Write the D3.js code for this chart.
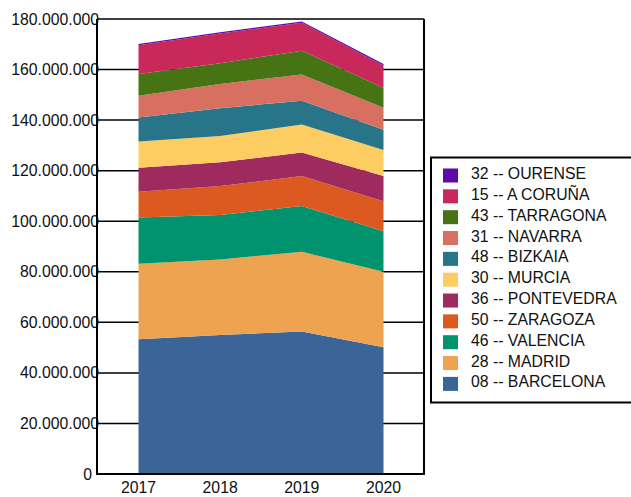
<!DOCTYPE html>
<meta charset="utf-8">
<style>
body { margin: 0; background: #fff; }
text { font-family: "Liberation Sans", Arial, sans-serif; font-size: 15.8px; fill: #111; }
</style>
<svg width="631" height="497"></svg>
<script src="https://cdn.jsdelivr.net/npm/d3@7"></script>
<script>

// years on the x axis
var years = [2017, 2018, 2019, 2020];

// provinces, bottom of the stack first
var provinces = ["08 -- BARCELONA", "28 -- MADRID", "46 -- VALENCIA", "50 -- ZARAGOZA",
  "36 -- PONTEVEDRA", "30 -- MURCIA", "48 -- BIZKAIA", "31 -- NAVARRA",
  "43 -- TARRAGONA", "15 -- A CORUÑA", "32 -- OURENSE"];

var colors = ["#3b6596", "#eda350", "#00936e", "#dc591f", "#9f2b5e", "#fdcd62",
  "#287489", "#d87062", "#467414", "#c8285a", "#5c0aa8"];

// values per province, one per year
var barcelona  = [53300000, 55000000, 56400000, 50100000];
var madrid     = [29900000, 29900000, 31500000, 29900000];
var valencia   = [18300000, 17600000, 18100000, 16000000];
var zaragoza   = [10200000, 11400000, 11900000, 11900000];
var pontevedra = [9500000, 9400000, 9300000, 10000000];
var murcia     = [10300000, 10400000, 11100000, 10300000];
var bizkaia    = [9500000, 11000000, 9400000, 8000000];
var navarra    = [8600000, 9600000, 10300000, 8700000];
var tarragona  = [8600000, 8200000, 9400000, 7900000];
var coruna     = [11400000, 11800000, 11100000, 8800000];
var ourense    = [500000, 500000, 500000, 600000];

var series = [barcelona, madrid, valencia, zaragoza, pontevedra, murcia,
  bizkaia, navarra, tarragona, coruna, ourense];

var yTicks = [0, 20e6, 40e6, 60e6, 80e6, 100e6, 120e6, 140e6, 160e6, 180e6];

var rows = years.map(function(yr, i) {
  var r = { year: yr };
  provinces.forEach(function(p, k) { r[p] = series[k][i]; });
  return r;
});

var svg = d3.select("svg");
var plotL = 97, plotR = 424, plotT = 19, plotB = 474;

var x = d3.scaleLinear().domain([2017, 2020]).range([138.5, 383.5]);
var y = d3.scaleLinear().domain([0, 180e6]).range([plotB, plotT]);
var color = d3.scaleOrdinal().domain(provinces).range(colors);

var fmt = d3.formatLocale({ decimal: ",", thousands: ".", grouping: [3], currency: ["", ""] }).format(",d");

// gridlines
svg.append("g").selectAll("line")
  .data(yTicks)
  .enter().append("line")
    .attr("x1", plotL).attr("x2", plotR)
    .attr("y1", function(d) { return y(d); })
    .attr("y2", function(d) { return y(d); })
    .attr("stroke", "#000").attr("stroke-width", 1.5);

var stack = d3.stack().keys(provinces);
var area = d3.area()
  .x(function(d) { return x(d.data.year); })
  .y0(function(d) { return y(d[0]); })
  .y1(function(d) { return y(d[1]); });

svg.append("g").selectAll("path")
  .data(stack(rows))
  .enter().append("path")
    .attr("fill", function(d) { return color(d.key); })
    .attr("d", area);

// y labels (the zero sits a bit further left)
svg.append("g").selectAll("text")
  .data(yTicks)
  .enter().append("text")
    .attr("x", function(d) { return d === 0 ? 92 : 99; })
    .attr("y", function(d) { return y(d); })
    .attr("dy", "0.35em")
    .attr("text-anchor", "end")
    .text(function(d) { return fmt(d); });

// x labels
svg.append("g").selectAll("text")
  .data(years)
  .enter().append("text")
    .attr("x", function(d) { return x(d); })
    .attr("y", 492.5)
    .attr("text-anchor", "middle")
    .text(function(d) { return d; });

// frame
svg.append("path")
  .attr("d", "M" + plotL + "," + plotT + "V" + plotB + "H" + plotR + "V" + plotT)
  .attr("fill", "none").attr("stroke", "#000").attr("stroke-width", 2);

// legend
var lg = svg.append("g").attr("transform", "translate(431,157.5)");
lg.append("rect")
  .attr("width", 210).attr("height", 245)
  .attr("fill", "#fff").attr("stroke", "#000").attr("stroke-width", 2);

var item = lg.selectAll(".item")
  .data(provinces.slice().reverse())
  .enter().append("g")
    .attr("class", "item")
    .attr("transform", function(d, i) { return "translate(0," + (11 + i * 20.84) + ")"; });

item.append("rect")
  .attr("x", 12).attr("width", 15).attr("height", 14)
  .attr("fill", function(d) { return color(d); });

item.append("text")
  .attr("x", 40).attr("y", 10.5)
  .text(function(d) { return d; });

</script>
